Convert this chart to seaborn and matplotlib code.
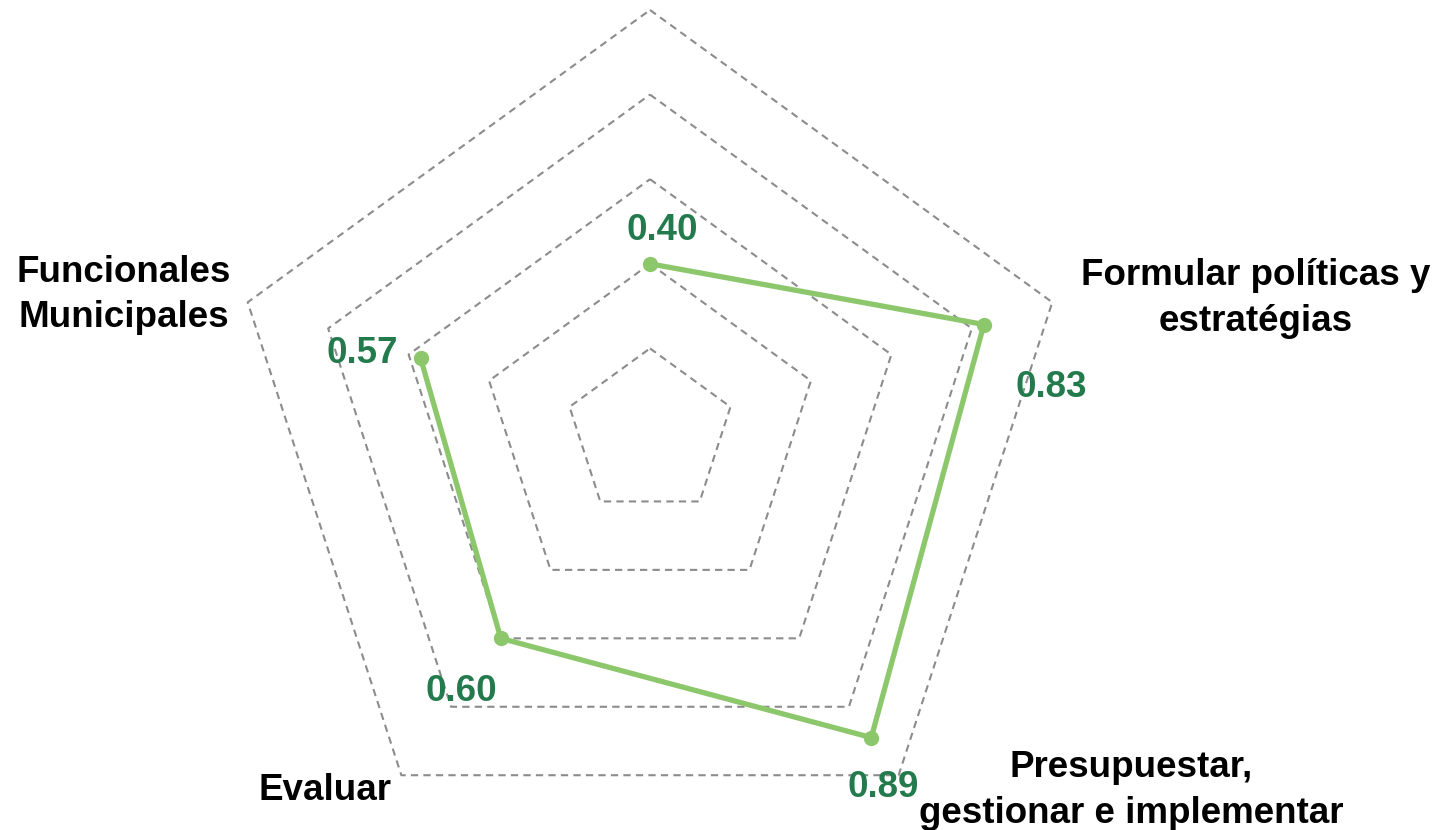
import numpy as np
import matplotlib
matplotlib.use("Agg")
import matplotlib.pyplot as plt
import seaborn as sns

# datos del radar (orden horario desde arriba)
categorias = ["", "Formular políticas y\nestratégias", "Presupuestar,\ngestionar e implementar",
              "Evaluar", "Funcionales\nMunicipales"]
valores = [0.40, 0.83, 0.89, 0.60, 0.57]
niveles = [0.2, 0.4, 0.6, 0.8, 1.0]

# posiciones de etiquetas (fracción de figura) y desplazamientos de valores (px)
pos_etiquetas = [None, (0.8675, 0.6405), (0.7815, 0.0475), (0.2245, 0.048), (0.0855, 0.6446)]
off_valores = [(12, 33), (67, -63), (12, -50), (-40, -53), (-58, 5)]

VERDE_LINEA = "#8cc76b"
VERDE_TEXTO = "#237a4c"
GRIS = "#8c8c8c"

sns.set_theme(style="white")
plt.rcParams['font.family'] = ['Liberation Sans', 'DejaVu Sans']

fig = plt.figure(figsize=(14.47, 8.3), dpi=100)
ax = fig.add_axes([227 / 1447, -26 / 830, 846 / 1447, 846 / 830], projection="polar")
ax.set_theta_offset(np.pi / 2)
ax.set_theta_direction(-1)

n = len(valores)
ang = np.linspace(0, 2 * np.pi, n, endpoint=False)
ang_c = np.append(ang, ang[0])

# anillos pentagonales punteados
for r in niveles:
    ax.plot(ang_c, [r] * (n + 1), ls=(0, (3.5, 2.5)), color=GRIS, lw=1.5, clip_on=False, zorder=1)

sns.lineplot(x=ang_c, y=np.append(valores, valores[0]), sort=False, ax=ax,
             color=VERDE_LINEA, lw=3.8, marker="o", markersize=11,
             markeredgewidth=0, zorder=3, clip_on=False)

ax.set_ylim(0, 1)
ax.set_axis_off()

for a, v, (dx, dy) in zip(ang, valores, off_valores):
    ax.annotate(f"{v:.2f}", xy=(a, v), xytext=(dx, dy), textcoords="offset pixels",
                ha="center", va="center", fontsize=26.5, fontweight="bold",
                color=VERDE_TEXTO, annotation_clip=False, zorder=4)

for cat, p in zip(categorias, pos_etiquetas):
    if p is None:
        continue
    fig.text(p[0], p[1], cat, ha="center", va="center", fontsize=26.5,
             fontweight="bold", color="black", linespacing=1.38)

fig.savefig("out.png", dpi=100)
